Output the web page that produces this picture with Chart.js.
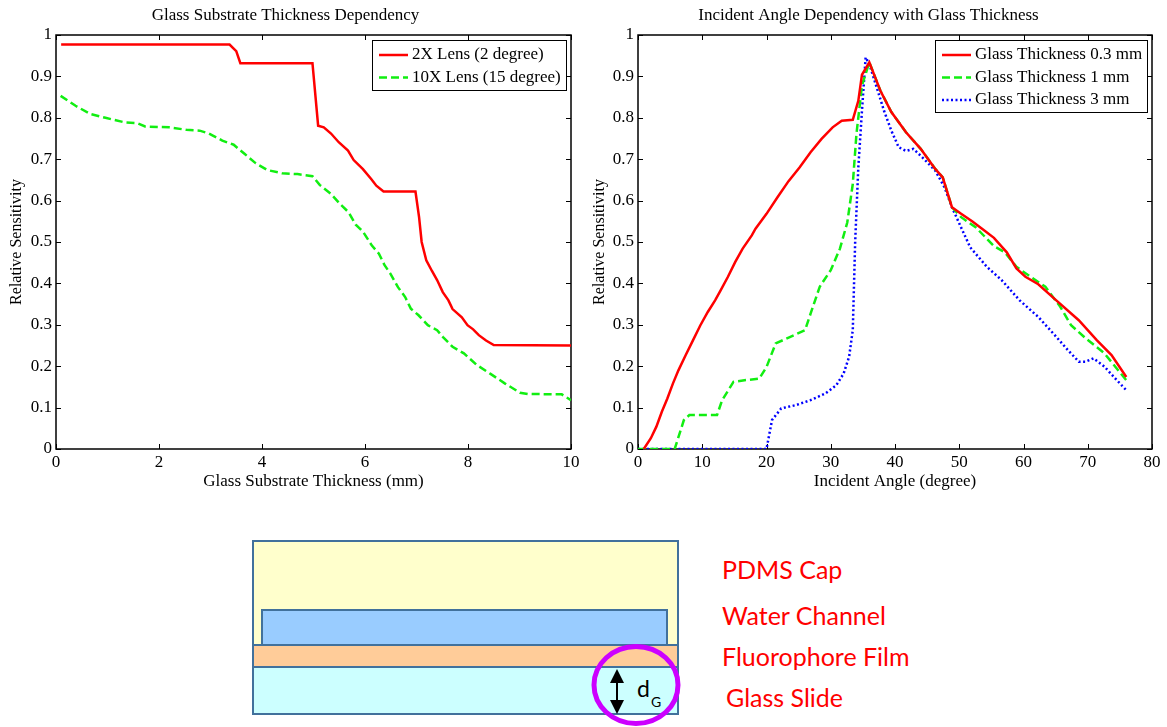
<!DOCTYPE html>
<html>
<head>
<meta charset="utf-8">
<script src="https://cdn.jsdelivr.net/npm/chart.js@4/dist/chart.umd.min.js"></script>
<style>
  html, body { margin: 0; padding: 0; background: #fff; }
  body { width: 1167px; height: 727px; position: relative; overflow: hidden; }
  canvas { position: absolute; top: 0; }
  #left { left: 0; }
  #right { left: 585px; }
  svg { position: absolute; left: 0; top: 500px; }
</style>
</head>
<body>
<canvas id="left" width="627" height="500"></canvas>
<canvas id="right" width="620" height="500"></canvas>

<svg width="1167" height="227" viewBox="0 500 1167 227">
  <g stroke="#41719c" stroke-width="2">
    <rect x="253" y="541" width="425" height="173" fill="#ffffcc"/>
    <rect x="262" y="610" width="405" height="35" fill="#99ccff"/>
    <rect x="253" y="645" width="425" height="22" fill="#ffcc99"/>
    <rect x="253" y="667" width="425" height="47" fill="#ccffff"/>
  </g>
  <line x1="617" y1="681" x2="617" y2="702" stroke="#000" stroke-width="2"/>
  <polygon points="617,669 610,683 624,683" fill="#000"/>
  <polygon points="617,714 610,700 624,700" fill="#000"/>
  <text x="637" y="697" font-family="Lato, 'Open Sans', sans-serif" font-size="23" fill="#000">d</text>
  <text x="651" y="707" font-family="Lato, 'Open Sans', sans-serif" font-size="14" fill="#000">G</text>
  <ellipse cx="636" cy="685" rx="42" ry="38.5" fill="none" stroke="#cc00ff" stroke-width="5"/>
  <g font-family="Lato, 'Open Sans', sans-serif" font-size="25" fill="#ff0000" dominant-baseline="central">
    <text x="722" y="569">PDMS Cap</text>
    <text x="722" y="615">Water Channel</text>
    <text x="722" y="656">Fluorophore Film</text>
    <text x="726" y="697">Glass Slide</text>
  </g>
</svg>

<script>
// left panel: sensitivity vs glass thickness (mm)
const lens2xThickness = [0.1, 3.37, 3.5, 3.58, 4.98, 5.09, 5.2, 5.34, 5.49, 5.67, 5.78, 5.96, 6.12, 6.22, 6.36, 6.98, 7.05, 7.1, 7.19, 7.3, 7.4, 7.51, 7.62, 7.7, 7.88, 7.99, 8.1, 8.21, 8.35, 8.5, 10];
const lens2xSens = [0.977, 0.977, 0.961, 0.932, 0.932, 0.781, 0.777, 0.762, 0.741, 0.721, 0.698, 0.676, 0.652, 0.636, 0.622, 0.622, 0.56, 0.5, 0.456, 0.43, 0.408, 0.379, 0.359, 0.338, 0.318, 0.299, 0.289, 0.275, 0.262, 0.251, 0.25];

const lens10xThickness = [0.09, 0.38, 0.67, 0.96, 1.33, 1.58, 1.73, 2.2, 2.53, 2.79, 2.97, 3.23, 3.45, 3.66, 3.88, 4.1, 4.39, 4.69, 4.98, 5.12, 5.34, 5.53, 5.68, 5.82, 5.96, 6.13, 6.27, 6.38, 6.49, 6.64, 6.78, 6.89, 7.04, 7.22, 7.4, 7.51, 7.7, 7.92, 8.17, 8.43, 8.72, 9.01, 9.16, 9.82, 10];
const lens10xSens = [0.853, 0.829, 0.809, 0.8, 0.789, 0.787, 0.779, 0.777, 0.771, 0.769, 0.762, 0.745, 0.735, 0.713, 0.69, 0.674, 0.666, 0.664, 0.659, 0.638, 0.616, 0.59, 0.572, 0.542, 0.525, 0.492, 0.472, 0.444, 0.424, 0.391, 0.367, 0.339, 0.323, 0.299, 0.287, 0.271, 0.247, 0.231, 0.203, 0.182, 0.158, 0.136, 0.133, 0.132, 0.118];

// right panel: sensitivity vs incident angle (degree)
const glass03Angle = [0.9, 2.0, 2.86, 3.71, 4.57, 5.43, 6.29, 7.43, 8.57, 9.71, 10.86, 12.0, 12.86, 14.0, 15.14, 16.29, 17.71, 18.29, 20.0, 21.71, 23.43, 25.14, 26.86, 28.57, 30.29, 31.71, 33.43, 34.29, 34.86, 36.0, 37.71, 39.43, 41.71, 44.0, 46.29, 47.43, 48.86, 50.29, 52.0, 53.7, 55.4, 57.4, 58.9, 60.3, 62.3, 65.1, 68.6, 71.4, 73.7, 76.0];
const glass03Sens = [0, 0.026, 0.054, 0.09, 0.122, 0.158, 0.19, 0.227, 0.263, 0.299, 0.331, 0.359, 0.383, 0.416, 0.452, 0.484, 0.516, 0.532, 0.568, 0.608, 0.647, 0.68, 0.717, 0.749, 0.777, 0.793, 0.795, 0.841, 0.904, 0.934, 0.866, 0.814, 0.765, 0.725, 0.676, 0.656, 0.584, 0.568, 0.55, 0.53, 0.51, 0.475, 0.436, 0.416, 0.398, 0.359, 0.311, 0.263, 0.227, 0.174];

const glass1Angle = [0, 5.71, 7.14, 8.0, 12.3, 13.1, 14.86, 16.57, 18.86, 20.0, 21.43, 23.71, 26.0, 26.86, 28.29, 30.0, 31.43, 32.57, 33.43, 34.0, 34.86, 36.0, 37.71, 39.43, 41.71, 44.0, 46.29, 47.43, 48.86, 50.29, 52.6, 55.4, 57.1, 58.9, 61.1, 63.4, 65.7, 67.4, 69.7, 72.6, 76.0];
const glass1Sens = [0, 0, 0.07, 0.082, 0.082, 0.118, 0.162, 0.166, 0.17, 0.198, 0.255, 0.271, 0.287, 0.327, 0.392, 0.432, 0.484, 0.547, 0.64, 0.761, 0.878, 0.934, 0.866, 0.814, 0.765, 0.725, 0.676, 0.656, 0.584, 0.56, 0.535, 0.49, 0.475, 0.44, 0.416, 0.392, 0.344, 0.299, 0.267, 0.231, 0.166];

const glass3Angle = [0, 20.0, 20.86, 22.29, 24.57, 26.86, 29.14, 30.86, 32.0, 32.86, 33.43, 33.8, 34.29, 34.86, 35.43, 36.0, 37.14, 38.29, 39.43, 40.57, 41.71, 42.86, 44.29, 46.29, 47.71, 48.86, 50.29, 51.71, 54.3, 56.6, 59.4, 62.3, 65.1, 66.9, 68.6, 69.7, 70.9, 72.6, 74.3, 76.0];
const glass3Sens = [0, 0, 0.07, 0.098, 0.106, 0.118, 0.134, 0.154, 0.182, 0.223, 0.287, 0.5, 0.68, 0.817, 0.946, 0.93, 0.874, 0.817, 0.769, 0.729, 0.72, 0.725, 0.704, 0.672, 0.632, 0.584, 0.535, 0.487, 0.44, 0.408, 0.359, 0.319, 0.271, 0.239, 0.211, 0.211, 0.219, 0.199, 0.17, 0.142];

// tick values
const thicknessTicks = [0, 2, 4, 6, 8, 10];
const angleTicks = [0, 10, 20, 30, 40, 50, 60, 70, 80];
const sensTicks = [0, 0.1, 0.2, 0.3, 0.4, 0.5, 0.6, 0.7, 0.8, 0.9, 1];

const SERIF = "'Liberation Serif', 'Times New Roman', serif";
Chart.defaults.font.family = SERIF;
Chart.defaults.color = '#000';

const pairs = (xs, ys) => xs.map((x, i) => ({ x: x, y: ys[i] }));

// matlab style box with inward ticks on all sides
const frameTicks = {
    id: 'frameTicks',
    beforeDatasetsDraw(chart) {
        const { ctx, chartArea: a, scales: { x, y } } = chart;
        ctx.save();
        ctx.strokeStyle = '#000';
        ctx.lineWidth = 1;
        ctx.beginPath();
        x.ticks.forEach(t => {
            const px = Math.round(x.getPixelForValue(t.value)) + 0.5;
            ctx.moveTo(px, a.bottom); ctx.lineTo(px, a.bottom - 5);
            ctx.moveTo(px, a.top); ctx.lineTo(px, a.top + 5);
        });
        y.ticks.forEach(t => {
            const py = Math.round(y.getPixelForValue(t.value)) + 0.5;
            ctx.moveTo(a.left, py); ctx.lineTo(a.left + 5, py);
            ctx.moveTo(a.right, py); ctx.lineTo(a.right - 5, py);
        });
        ctx.stroke();
        ctx.lineWidth = 1.5;
        ctx.strokeRect(a.left, a.top, a.right - a.left, a.bottom - a.top);
        ctx.restore();
    }
};

// boxed legend in the upper right corner
const boxLegend = {
    id: 'boxLegend',
    afterDatasetsDraw(chart) {
        const { ctx, chartArea: a } = chart;
        const sets = chart.data.datasets;
        ctx.save();
        ctx.font = '17px ' + SERIF;
        const textW = Math.max(...sets.map(d => ctx.measureText(d.label).width));
        const w = Math.round(40 + textW + 5);
        const h = Math.round(15 + (sets.length - 1) * 22.5 + 12);
        const left = Math.round(a.right - 5 - w), top = Math.round(a.top + 5);
        ctx.fillStyle = '#fff';
        ctx.fillRect(left, top, w, h);
        ctx.strokeStyle = '#000';
        ctx.lineWidth = 1;
        ctx.strokeRect(left + 0.5, top + 0.5, w, h);
        sets.forEach((d, i) => {
            const cy = top + 15 + i * 22.5;
            ctx.beginPath();
            ctx.setLineDash(d.borderDash || []);
            ctx.strokeStyle = d.borderColor;
            ctx.lineWidth = d.borderWidth;
            ctx.moveTo(left + 7, cy);
            ctx.lineTo(left + 36, cy);
            ctx.stroke();
            ctx.setLineDash([]);
            ctx.fillStyle = '#000';
            ctx.textBaseline = 'middle';
            ctx.fillText(d.label, left + 40, cy);
        });
        ctx.restore();
    }
};

function makeOptions(title, xTitle, xMax, xTicks, yWidth, yTitlePad, rightPad) {
    return {
        responsive: false,
        animation: false,
        layout: { padding: { left: 0, right: rightPad, top: 0, bottom: 0 } },
        elements: { point: { radius: 0 }, line: { tension: 0 } },
        plugins: {
            legend: { display: false },
            tooltip: { enabled: false },
            title: {
                display: true,
                text: title,
                font: { size: 17, weight: 'normal' },
                padding: { top: 5, bottom: 9.6 }
            }
        },
        scales: {
            x: {
                type: 'linear',
                min: 0,
                max: xMax,
                afterBuildTicks: s => { s.ticks = xTicks.map(v => ({ value: v })); },
                afterFit: s => { s.height = 51; },
                grid: { display: false, drawTicks: false },
                border: { display: false },
                ticks: { padding: 3, font: { size: 17 }, maxRotation: 0, autoSkip: false, callback: v => String(v) },
                title: { display: true, text: xTitle, font: { size: 17 }, padding: { top: 0, bottom: 8.7 } }
            },
            y: {
                type: 'linear',
                min: 0,
                max: 1,
                afterBuildTicks: s => { s.ticks = sensTicks.map(v => ({ value: v })); },
                afterFit: s => { s.width = yWidth; },
                grid: { display: false, drawTicks: false },
                border: { display: false },
                ticks: { padding: 4, font: { size: 17 }, autoSkip: false, callback: v => String(v) },
                title: { display: true, text: 'Relative Sensitivity', font: { size: 16 }, padding: { top: yTitlePad, bottom: 0 } }
            }
        }
    };
}

new Chart(document.getElementById('left').getContext('2d'), {
    type: 'line',
    data: {
        datasets: [
            {
                label: '2X Lens (2 degree)',
                data: pairs(lens2xThickness, lens2xSens),
                borderColor: '#ff0000',
                borderWidth: 2.5
            },
            {
                label: '10X Lens (15 degree)',
                data: pairs(lens10xThickness, lens10xSens),
                borderColor: '#11ee11',
                borderWidth: 2.5,
                borderDash: [8, 4]
            }
        ]
    },
    options: makeOptions('Glass Substrate Thickness Dependency', 'Glass Substrate Thickness (mm)', 10, thicknessTicks, 56, 7.4, 56),
    plugins: [frameTicks, boxLegend]
});

new Chart(document.getElementById('right').getContext('2d'), {
    type: 'line',
    data: {
        datasets: [
            {
                label: 'Glass Thickness 0.3 mm',
                data: pairs(glass03Angle, glass03Sens),
                borderColor: '#ff0000',
                borderWidth: 2.5
            },
            {
                label: 'Glass Thickness 1 mm',
                data: pairs(glass1Angle, glass1Sens),
                borderColor: '#11ee11',
                borderWidth: 2.5,
                borderDash: [8, 4]
            },
            {
                label: 'Glass Thickness 3 mm',
                data: pairs(glass3Angle, glass3Sens),
                borderColor: '#0000ff',
                borderWidth: 2.5,
                borderDash: [2, 2.5]
            }
        ]
    },
    options: makeOptions('Incident Angle Dependency with Glass Thickness', 'Incident Angle (degree)', 80, angleTicks, 53, 5.4, 53),
    plugins: [frameTicks, boxLegend]
});
</script>
</body>
</html>
